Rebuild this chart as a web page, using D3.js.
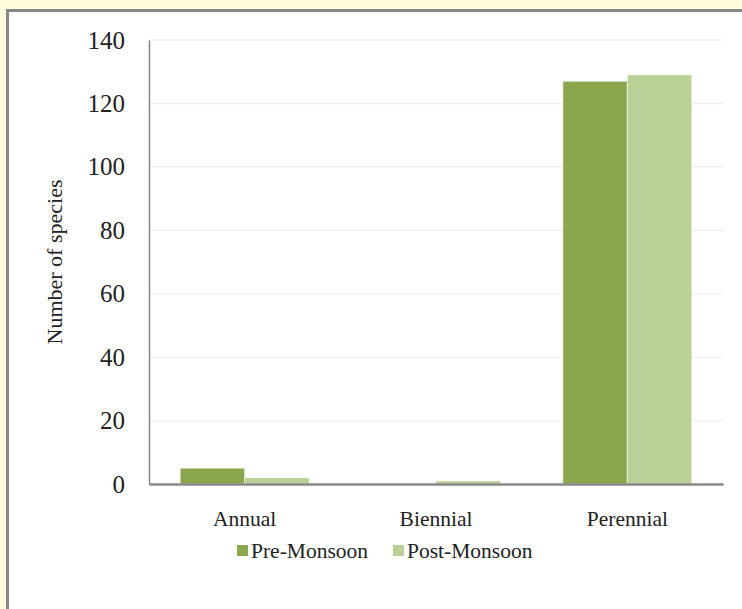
<!DOCTYPE html>
<html><head><meta charset="utf-8">
<script src="https://cdn.jsdelivr.net/npm/d3@7"></script>
<style>html,body{margin:0;padding:0;background:#fffbdc;}svg{display:block;}</style>
</head><body>
<svg id="c" width="742" height="609"></svg>
<script>
const categories = ["Annual", "Biennial", "Perennial"];
const seriesNames = ["Pre-Monsoon", "Post-Monsoon"];
const preMonsoon = [5, 0, 127];
const postMonsoon = [2, 1, 129];
const yTicks = [0, 20, 40, 60, 80, 100, 120, 140];
const colors = ["#8ba64d", "#bad096"];

(function () {
const FONT = "'Liberation Serif', 'Times New Roman', serif";
const svg = d3.select("#c");
svg.append("rect").attr("x", 0).attr("y", 0).attr("width", 742).attr("height", 609).attr("fill", "#fffbdc");
svg.append("rect").attr("x", 7.5).attr("y", 10.5).attr("width", 800).attr("height", 700)
  .attr("fill", "#ffffff").attr("stroke", "#888888").attr("stroke-width", 3);

const pL = 149, pR = 723, pT = 40, pB = 484;
const x = d3.scaleBand().domain(categories).range([pL, pR]).paddingInner(0.326).paddingOuter(0.163);
const xs = d3.scaleBand().domain(seriesNames).range([0, x.bandwidth()]);
const y = d3.scaleLinear().domain([0, 140]).range([pB, pT]);

// gridlines
svg.append("g").selectAll("line").data(yTicks.filter(d => d > 0)).join("line")
  .attr("x1", pL).attr("x2", pR).attr("y1", d => y(d)).attr("y2", d => y(d))
  .attr("stroke", "#f0f0f0").attr("stroke-width", 1.5);

// bars
const data = categories.map((c, i) => ({cat: c, vals: [preMonsoon[i], postMonsoon[i]]}));
const g = svg.append("g");
data.forEach(d => {
  d.vals.forEach((v, j) => {
    if (v <= 0) return;
    g.append("rect")
      .attr("x", x(d.cat) + xs(seriesNames[j]))
      .attr("y", y(v))
      .attr("width", xs.bandwidth())
      .attr("height", y(0) - y(v))
      .attr("fill", colors[j])
      .attr("stroke", "#ffffff").attr("stroke-opacity", 0.6).attr("stroke-width", 1);
  });
});

// y axis
const yAxis = d3.axisLeft(y).tickValues(yTicks).tickSize(0).tickPadding(24);
const ya = svg.append("g").attr("transform", `translate(${pL},0)`).call(yAxis);
ya.select(".domain").attr("stroke", "#888888").attr("stroke-width", 1.5);
ya.selectAll("text").attr("font-family", FONT).attr("font-size", 25).attr("fill", "#222");

// x axis
const xAxis = d3.axisBottom(x).tickSize(0).tickPadding(27);
const xa = svg.append("g").attr("transform", `translate(0,${pB})`).call(xAxis);
xa.select(".domain").attr("stroke", "#888888").attr("stroke-width", 2.5);
xa.selectAll("text").attr("font-family", FONT).attr("font-size", 21.5).attr("fill", "#222");

// y title
svg.append("text").attr("transform", `translate(54,${(pT + pB) / 2}) rotate(-90)`)
  .attr("text-anchor", "middle").attr("dominant-baseline", "central")
  .attr("font-family", FONT).attr("font-size", 22).attr("fill", "#222")
  .text("Number of species");

// legend
const legX = [237, 393];
seriesNames.forEach((s, j) => {
  svg.append("rect").attr("x", legX[j]).attr("y", 545).attr("width", 11).attr("height", 11).attr("fill", colors[j]);
  svg.append("text").attr("x", legX[j] + 14).attr("y", 558)
    .attr("font-family", FONT).attr("font-size", 21.5).attr("fill", "#222")
    .text(s);
});
})();
</script>
</body></html>
